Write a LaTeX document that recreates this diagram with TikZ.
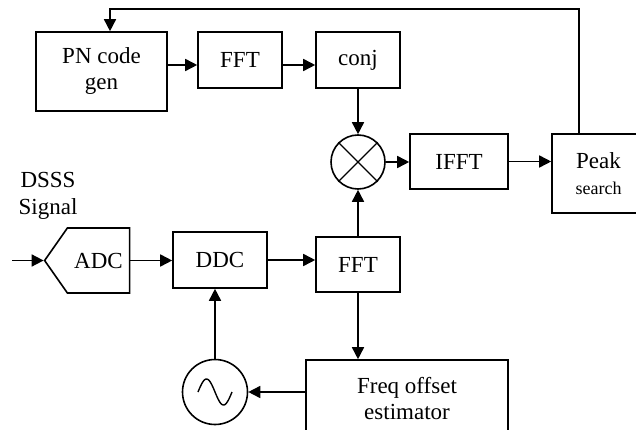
\documentclass[tikz,border=0pt]{standalone}
\usepackage{fontspec}
\setmainfont{Liberation Serif}
\usepackage{tikz}
\usetikzlibrary{arrows.meta,shapes.symbols}
\tikzset{
    plain-box/.style = {draw, line width=1.6pt, rectangle, inner sep=0pt, align=center, font=\fontsize{23}{26}\selectfont},
    round-box/.style = {draw, line width=1.6pt, circle, inner sep=0pt},
    flow-arrow/.style = {line width=1.6pt, -{Triangle[length=12pt,width=12pt]}},
}

\begin{document}
\begin{tikzpicture}[x=1pt,y=-1pt]
\useasboundingbox (0,0) rectangle (636,430);
\clip (0,0) rectangle (636,430);
\node[plain-box, minimum width=131pt, minimum height=79pt] (pngen) at (101.5,71.5) {PN code\\gen};
\node[plain-box, minimum width=84pt, minimum height=56pt] (fft1) at (240,60) {FFT};
\node[plain-box, minimum width=84pt, minimum height=56pt] (conj) at (358,60) {conj};
\node[round-box, minimum size=54pt] (mult) at (358,162) {};
\node[plain-box, minimum width=98pt, minimum height=55pt] (ifft) at (459,161.5) {IFFT};
\node[plain-box, minimum width=93pt, minimum height=79pt] (peak) at (598.5,173.5) {Peak\\{\fontsize{18}{21}\selectfont search}};
\node[align=center, font=\fontsize{23}{27}\selectfont] (dsss) at (48,196) {DSSS\\Signal};
\node[plain-box, signal, signal to=west, signal from=nowhere, signal pointer angle=110, minimum width=85pt, minimum height=65pt] (adc) at (98.5,260.5) {ADC};
\node[plain-box, minimum width=94pt, minimum height=56pt] (ddc) at (220,260) {DDC};
\node[plain-box, minimum width=84pt, minimum height=55pt] (fft2) at (358,264.5) {FFT};
\node[round-box, minimum size=65pt] (osc) at (215,392) {};
\node[plain-box, minimum width=202pt, minimum height=78pt] (est) at (407,399) {Freq offset\\estimator};
\coordinate (row1) at (0,65);
\coordinate (input) at (12,260.5);

\draw[line width=1.1pt] (mult.45) -- (mult.225) (mult.135) -- (mult.315);
\draw[line width=1.4pt] plot[domain=0:360, samples=40] ({198+\x/360*34}, {392-13*sin(\x)});

\draw[flow-arrow] (pngen.east |- row1) -- (fft1.west |- row1);
\draw[flow-arrow] (fft1.east |- row1) -- (conj.west |- row1);
\draw[flow-arrow] (conj.south) -- (mult.north);
\draw[flow-arrow] (fft2.north) -- (mult.south);
\draw[flow-arrow] (mult.east) -- (ifft.west |- mult.east);
\draw[flow-arrow] (ifft.east) -- (peak.west |- ifft.east);
\draw[flow-arrow] ([xshift=-19.5pt]peak.north) -- ++(0,-124) -| ([xshift=8.5pt]pngen.north);
\draw[flow-arrow] (input) -- (adc.west);
\draw[flow-arrow] (adc.east) -- (ddc.west |- adc.east);
\draw[flow-arrow] (ddc.east) -- (ddc.east -| fft2.west);
\draw[flow-arrow] (osc.north) -- (osc.north |- ddc.south);
\draw[flow-arrow] (fft2.south) -- (fft2.south |- est.north);
\draw[flow-arrow] (est.west |- osc.east) -- (osc.east);
\end{tikzpicture}
\end{document}
